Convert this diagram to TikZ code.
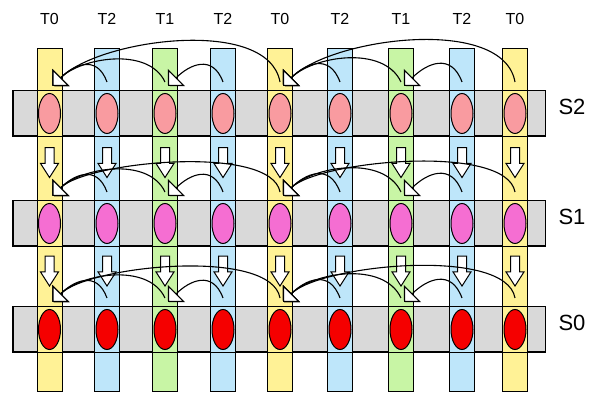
\documentclass[tikz,border=0pt]{standalone}
\usepackage{fontspec}
\setmainfont{Liberation Sans}
\usetikzlibrary{arrows.meta,shapes.geometric,shapes.arrows}
\definecolor{tzero}{HTML}{FFF296}
\definecolor{tone}{HTML}{C8F5A5}
\definecolor{ttwo}{HTML}{BEE6FA}
\definecolor{bandgray}{HTML}{D9D9D9}
\definecolor{stwo}{HTML}{F99BA0}
\definecolor{sone}{HTML}{F56ED2}
\definecolor{szero}{HTML}{F50000}
\newcommand{\colpos}{1/49.5,2/107,3/165,4/223,5/280,6/340,7/401,8/462,9/515}
\tikzset{
  bar/.style={draw, line width=1pt, minimum width=25pt, minimum height=343pt, inner sep=0pt},
  band/.style={draw, line width=1pt, minimum width=532pt, minimum height=45pt, inner sep=0pt},
  cell/.style={ellipse, draw, line width=1pt, minimum width=22pt, minimum height=40pt, inner sep=0pt},
  dn/.style={single arrow, draw, fill=white, line width=1pt, rotate=-90, minimum height=30pt,
             inner sep=4pt, single arrow head extend=4.5pt, single arrow tip angle=65},
  feed/.style={line width=1.1pt, -{Triangle[length=12pt,width=24pt,fill=white]}},
  tlab/.style={font=\fontsize{16}{16}\selectfont},
  slab/.style={font=\fontsize{22}{22}\selectfont}
}

\begin{document}
\begin{tikzpicture}[x=1pt,y=1pt]
  \useasboundingbox (0,0) rectangle (597,393);
  \foreach \r/\y in {2/279.5,1/169.5,0/63.5}
    \node[band, fill=bandgray] (s\r) at (279,\y) {};
  \foreach \i/\x/\t/\col in {1/49.5/T0/tzero,2/107/T2/ttwo,3/165/T1/tone,4/223/T2/ttwo,5/280/T0/tzero,
                             6/340/T2/ttwo,7/401/T1/tone,8/462/T2/ttwo,9/515/T0/tzero} {
    \node[bar, fill=\col] (b\i) at (\x,172.5) {};
    \node[tlab] (l\i) at (\x,374) {\t};
  }
  \foreach \r/\y/\c in {2/279.5/stwo,1/169.5/sone,0/63.5/szero} {
    \draw[line width=1pt] (s\r.south west) rectangle (s\r.north east);
    \node[slab] (n\r) at (572,\y+7) {S\r};
    \foreach \i/\x in \colpos
      \node[cell, fill=\c] (e\r-\i) at (\x,\y) {};
  }
  \foreach \k/\y in {a/234,b/125.5}
    \foreach \i/\x in \colpos
      \node[dn] (d\k-\i) at (\x,\y) {};
  \foreach \r/\top/\lo in {2/302/0.75,1/192/0.55,0/86/0.58} {
    \foreach \i/\x in \colpos {
      \coordinate (t\r-\i) at (\x,\top+9);
      \coordinate (h\r-\i) at (\x+3,\top+5);
    }
    \draw[feed] (t\r-5) to[out=100,in=45,looseness=\lo] (h\r-1);
    \draw[feed] (t\r-9) to[out=100,in=45,looseness=\lo] (h\r-5);
    \draw[feed] (t\r-3) to[out=115,in=45,looseness=0.9] (h\r-1);
    \draw[feed] (t\r-7) to[out=115,in=45,looseness=0.9] (h\r-5);
    \foreach \a/\b in {2/1,4/3,6/5,8/7}
      \draw[feed] (t\r-\a) to[out=110,in=45,looseness=1.4] (h\r-\b);
  }
\end{tikzpicture}
\end{document}
